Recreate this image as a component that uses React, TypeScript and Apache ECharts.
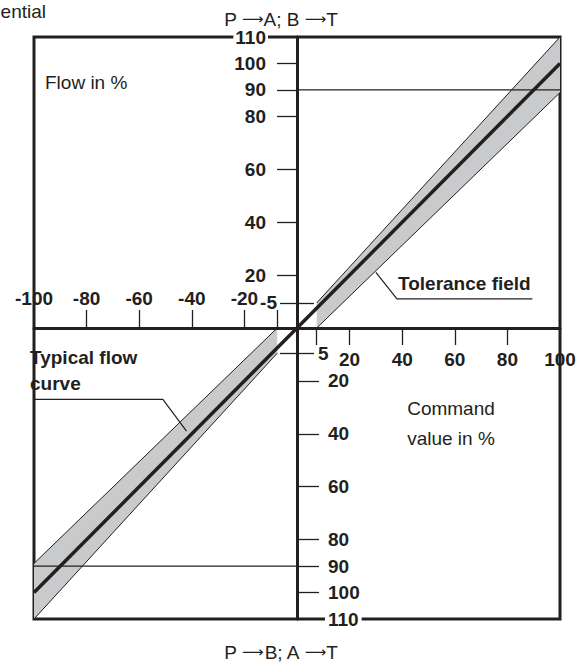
import React, { useEffect, useRef } from "react";
import * as echarts from "echarts";

// ---- data ----
const xRange = [-100, 100];
const yRange = [-110, 110];
const xNegLabels = [-100, -80, -60, -40, -20];
const xNegTicks = [-80, -60, -40, -20, -7.5];
const xPosLabels = [20, 40, 60, 80, 100];
const xPosTicks = [7.5, 20, 40, 60, 80];
const yPosLabels = [20, 40, 60, 80, 90, 100, 110];
const yPosTicks = [20, 40, 60, 80, 90, 100];
const yNegLabels = [-20, -40, -60, -80, -90, -100, -110];
const yNegTicks = [-20, -40, -60, -80, -90, -100];
const smallTicks = [9.5, -9.5];
const smallLabelUp = { value: 9.5, text: "-5" };
const smallLabelDown = { value: -9.5, text: "5" };

const flowCurve = [[-100, -100], [100, 100]];
const bandPos = [[7.5, 0], [100, 89], [100, 110], [7.5, 9.5]];
const bandNeg = [[-7.5, 0], [-100, -89], [-100, -110], [-7.5, -9.5]];
const refPos = [[0, 90], [100, 90]];
const refNeg = [[-100, -90], [0, -90]];
const tolLeader = [[30, 21], [38, 11], [89.5, 11]];
const typLeader = [[-100, -27], [-51, -27], [-42, -39]];

const DARK = "#231f20";
const GRAY = "#c9cacb";
const FONT = '"Liberation Sans", Arial, sans-serif';

// grid box (pixels)
const G = { left: 34, top: 37, width: 526, height: 582 };
const zeroFromLeft = ((0 - xRange[0]) / (xRange[1] - xRange[0])) * G.width;
const zeroFromTop = ((yRange[1] - 0) / (yRange[1] - yRange[0])) * G.height;

const fmtAbs = (v: number) => String(Math.abs(Math.round(v)));

export default function App() {
  const ref = useRef<HTMLDivElement>(null);
  useEffect(() => {
    if (!ref.current) return;
    const chart = echarts.init(ref.current, undefined, { renderer: "svg" });
    const labelBase = { color: DARK, fontFamily: FONT, fontWeight: "bold" as const, fontSize: 19 };
    const xCommon = { type: "value" as const, min: xRange[0], max: xRange[1], splitLine: { show: false } };
    const yCommon = { type: "value" as const, min: yRange[0], max: yRange[1], splitLine: { show: false } };
    const line = (show: boolean) => ({ show, onZero: false, lineStyle: { color: DARK, width: 3 } });
    const tickStyle = { color: DARK, width: 1.3 };
    const offB = -(G.height - zeroFromTop);
    const offT = -zeroFromTop;
    const offL = -zeroFromLeft;
    const offR = -(G.width - zeroFromLeft);
    const arrowRich = { a: { fontFamily: '"DejaVu Sans", sans-serif', fontSize: 15, fill: DARK } };

    const edge = (data: number[][], width: number) => ({
      type: "line",
      data,
      symbol: "none",
      silent: true,
      lineStyle: { color: DARK, width },
      z: 3,
    });

    chart.setOption({
      animation: false,
      grid: {
        ...G,
        show: true,
        borderColor: DARK,
        borderWidth: 3,
        backgroundColor: "transparent",
        containLabel: false,
        outerBoundsMode: "none",
      },
      xAxis: [
        {
          ...xCommon,
          position: "bottom",
          offset: offB,
          axisLine: line(true),
          axisTick: { show: true, customValues: xPosTicks, length: 17, lineStyle: tickStyle },
          axisLabel: { ...labelBase, customValues: xPosLabels, margin: 22, formatter: fmtAbs },
          z: 10,
        },
        {
          ...xCommon,
          position: "top",
          offset: offT,
          axisLine: line(false),
          axisTick: { show: true, customValues: xNegTicks, length: 18, lineStyle: tickStyle },
          axisLabel: { ...labelBase, customValues: xNegLabels, margin: 20, formatter: (v: number) => String(v) },
          z: 10,
        },
      ],
      yAxis: [
        {
          ...yCommon,
          position: "left",
          offset: offL,
          axisLine: line(true),
          axisTick: { show: true, customValues: yPosTicks, length: 20, lineStyle: tickStyle },
          axisLabel: {
            ...labelBase,
            customValues: yPosLabels,
            margin: 29,
            formatter: fmtAbs,
            backgroundColor: "#fff",
            padding: [0, 2],
          },
          z: 10,
        },
        {
          ...yCommon,
          position: "right",
          offset: offR,
          axisLine: line(false),
          axisTick: { show: true, customValues: yNegTicks, length: 22, lineStyle: tickStyle },
          axisLabel: {
            ...labelBase,
            customValues: yNegLabels,
            margin: 28,
            formatter: fmtAbs,
            backgroundColor: "#fff",
            padding: [0, 3],
          },
          z: 10,
        },
        {
          ...yCommon,
          position: "left",
          offset: offL,
          axisLine: line(false),
          axisTick: { show: true, customValues: smallTicks, length: 17, lineStyle: tickStyle },
          axisLabel: { ...labelBase, customValues: [smallLabelUp.value], margin: 20, formatter: () => smallLabelUp.text },
          z: 10,
        },
        {
          ...yCommon,
          position: "right",
          offset: offR,
          axisLine: line(false),
          axisTick: { show: true, customValues: smallTicks, length: 17, lineStyle: tickStyle },
          axisLabel: { ...labelBase, customValues: [smallLabelDown.value], margin: 21, formatter: () => smallLabelDown.text },
          z: 10,
        },
      ],
      series: [
        {
          type: "custom",
          silent: true,
          data: [0, 1],
          z: 1,
          renderItem: (params: any, api: any) => {
            const poly = params.dataIndex === 0 ? bandPos : bandNeg;
            return {
              type: "polygon",
              shape: { points: poly.map((p) => api.coord(p)) },
              style: { fill: GRAY, stroke: null },
            };
          },
        },
        edge([bandPos[0], bandPos[1]], 1),
        edge([bandPos[3], bandPos[2]], 1),
        edge([bandNeg[0], bandNeg[1]], 1),
        edge([bandNeg[3], bandNeg[2]], 1),
        edge(refPos, 1.2),
        edge(refNeg, 1.2),
        edge(tolLeader, 1.2),
        edge(typLeader, 1.2),
        { ...edge(flowCurve, 3.5), z: 4 },
      ],
      graphic: [
        { type: "text", x: 46, y: 11, style: { text: "ential", fontFamily: FONT, fontSize: 19, fill: DARK, align: "right", verticalAlign: "middle" } },
        { type: "text", x: 281, y: 19, style: { text: "P {a|⟶}A; B {a|⟶}T", rich: arrowRich, fontFamily: FONT, fontSize: 19, fill: DARK, align: "center", verticalAlign: "middle" } },
        { type: "text", x: 281, y: 652, style: { text: "P {a|⟶}B; A {a|⟶}T", rich: arrowRich, fontFamily: FONT, fontSize: 19, fill: DARK, align: "center", verticalAlign: "middle" } },
        { type: "text", x: 45, y: 82, style: { text: "Flow in %", fontFamily: FONT, fontSize: 19, fill: DARK, align: "left", verticalAlign: "middle" } },
        { type: "text", x: 451, y: 408, style: { text: "Command", fontFamily: FONT, fontSize: 19, fill: DARK, align: "center", verticalAlign: "middle" } },
        { type: "text", x: 451, y: 438, style: { text: "value in %", fontFamily: FONT, fontSize: 19, fill: DARK, align: "center", verticalAlign: "middle" } },
        { type: "text", x: 398, y: 283, z: 20, style: { text: "Tolerance field", fontFamily: FONT, fontSize: 19, fontWeight: "bold", fill: DARK, align: "left", verticalAlign: "middle" } },
        { type: "text", x: 30, y: 357, z: 20, style: { text: "Typical flow", fontFamily: FONT, fontSize: 19, fontWeight: "bold", fill: DARK, align: "left", verticalAlign: "middle" } },
        { type: "text", x: 30, y: 383, z: 20, style: { text: "curve", fontFamily: FONT, fontSize: 19, fontWeight: "bold", fill: DARK, align: "left", verticalAlign: "middle" } },
      ],
    });
    return () => chart.dispose();
  }, []);
  return (
    <div
      ref={ref}
      style={{ position: "fixed", left: 0, top: 0, width: 576, height: 664, background: "#fff" }}
    />
  );
}
